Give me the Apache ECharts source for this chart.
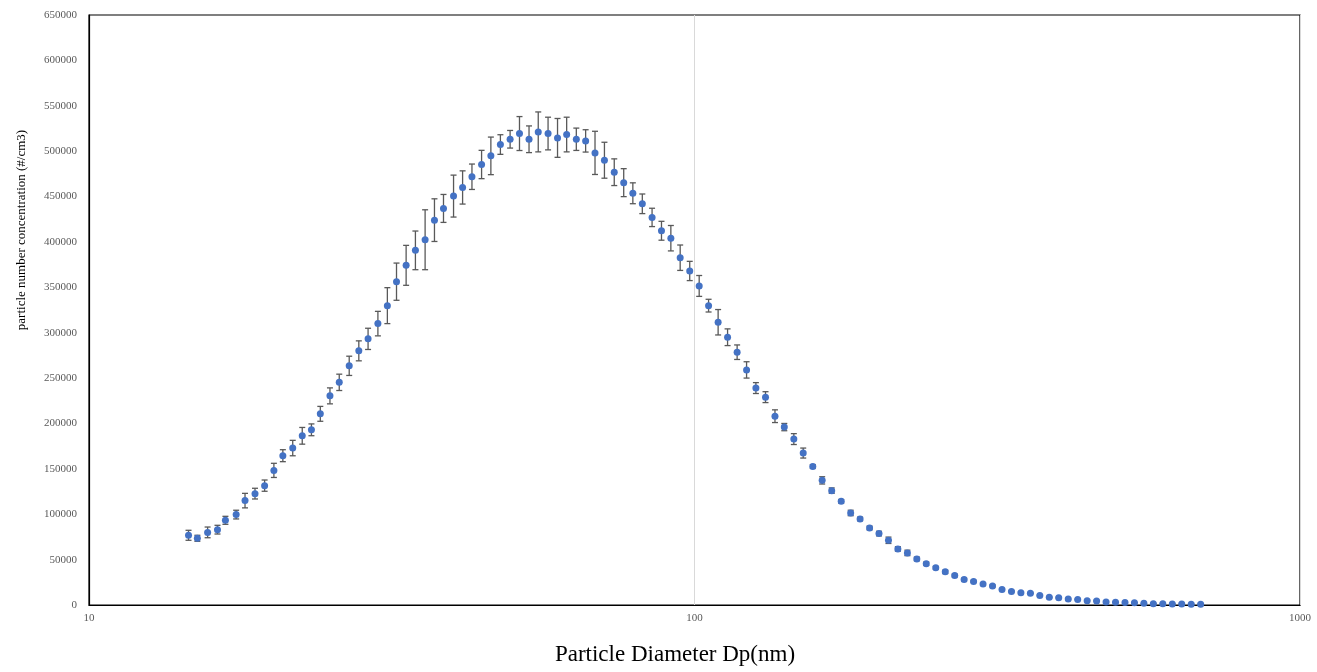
<!DOCTYPE html>
<html>
<head>
<meta charset="utf-8">
<script src="https://cdn.jsdelivr.net/npm/echarts@6/dist/echarts.min.js"></script>
<style>
  html, body { margin: 0; padding: 0; background: #fff; }
  #chart { width: 1317px; height: 672px; }
</style>
</head>
<body>
<div id="chart"></div>
<script>
// particle diameter bins (nm), 64 channels per decade
const diameters = [
  14.6, 15.1, 15.7, 16.3, 16.8, 17.5, 18.1, 18.8, 19.5, 20.2, 20.9, 21.7, 22.5, 23.3, 24.1, 25.0,
  25.9, 26.9, 27.9, 28.9, 30.0, 31.1, 32.2, 33.4, 34.6, 35.9, 37.2, 38.5, 40.0, 41.4, 42.9, 44.5,
  46.1, 47.8, 49.6, 51.4, 53.3, 55.2, 57.3, 59.4, 61.5, 63.8, 66.1, 68.5, 71.0, 73.7, 76.4, 79.1,
  82.0, 85.1, 88.2, 91.4, 94.7, 98.2, 101.8, 105.5, 109.4, 113.4, 117.6, 121.9, 126.3, 131.0, 135.8, 140.7,
  145.9, 151.2, 156.8, 162.5, 168.5, 174.7, 181.1, 187.7, 194.6, 201.7, 209.1, 216.7, 224.7, 232.9, 241.4, 250.3,
  259.5, 269.0, 278.8, 289.0, 299.6, 310.6, 322.0, 333.8, 346.0, 358.7, 371.8, 385.4, 399.5, 414.2, 429.4, 445.1,
  461.4, 478.3, 495.8, 514.0, 532.8, 552.3, 572.5, 593.5, 615.3, 637.8, 661.2, 685.4
]

// mean concentration (#/cm3)
const concentration = [
  76800, 73500, 80000, 83000, 93300, 99600, 115000, 122700, 131500, 148300, 164500, 172900, 186400, 193000, 210600, 230400,
  245300, 263500, 280000, 293200, 310000, 329800, 356200, 374200, 390700, 402400, 424000, 436900, 450500, 460000, 471800, 485300,
  494800, 507300, 513100, 519400, 513100, 521200, 519400, 514600, 518300, 513100, 511300, 498100, 490000, 476800, 465300, 453600,
  442000, 427000, 412300, 404100, 382600, 368000, 351500, 329800, 311500, 295000, 278500, 259000, 239000, 229000, 208000, 196000,
  182800, 167400, 152700, 137300, 126000, 114200, 101400, 94800, 84900, 78700, 71300, 61800, 57400, 50800, 45500, 41000,
  36500, 32500, 28000, 26000, 23000, 21000, 17000, 15000, 13500, 13000, 10500, 8500, 8000, 6500, 6000, 4800,
  4500, 3200, 3000, 2800, 2500, 1800, 1500, 1300, 1100, 1000, 900, 800
]

// error bar half-length (#/cm3)
const errors = [
  5500, 3300, 5900, 4800, 4400, 4800, 8000, 5900, 6200, 7800, 6600, 8500, 9200, 6500, 8200, 8800,
  9000, 10600, 11000, 11700, 13500, 19800, 20500, 22000, 21300, 33000, 23500, 15400, 23100, 18300, 14000, 15600,
  20700, 10800, 9700, 18700, 14700, 22000, 18000, 21400, 19100, 12300, 12300, 23800, 19800, 14700, 15400, 11500,
  10800, 10100, 10400, 14000, 14000, 10600, 11500, 7000, 14000, 9200, 8000, 9000, 6000, 6000, 7000, 4000,
  6000, 5500, 2000, 4000, 3000, 2000, 3000, 2000, 2000, 2500, 3500, 2500, 3000, 2000, 1800, 1500,
  1800, 1500, 1500, 1200, 1200, 1000, 1000, 900, 900, 800, 700, 700, 600, 600, 500, 500,
  500, 400, 400, 400, 300, 300, 300, 300, 200, 200, 200, 200
]

const yTicks = { min: 0, max: 650000, interval: 50000 }

const points = diameters.map((d, i) => [d, concentration[i]])
const bars = diameters.map((d, i) => [d, concentration[i] - errors[i], concentration[i] + errors[i]])

const serif = "'Liberation Serif', 'DejaVu Serif', serif"

function renderErrorBar(params, api) {
  const x = api.value(0)
  const top = api.coord([x, api.value(2)])
  const bot = api.coord([x, api.value(1)])
  const cap = 3
  const style = { stroke: '#595959', lineWidth: 1.3 }
  return {
    type: 'group',
    children: [
      { type: 'line', shape: { x1: top[0], y1: top[1], x2: bot[0], y2: bot[1] }, style },
      { type: 'line', shape: { x1: top[0] - cap, y1: top[1], x2: top[0] + cap, y2: top[1] }, style },
      { type: 'line', shape: { x1: bot[0] - cap, y1: bot[1], x2: bot[0] + cap, y2: bot[1] }, style }
    ]
  }
}

const chart = echarts.init(document.getElementById('chart'))

chart.setOption({
  animation: false,
  backgroundColor: '#fff',
  grid: {
    left: 89,
    right: 17,
    top: 15,
    bottom: 67,
    show: true,
    borderColor: '#000',
    borderWidth: 1.2
  },
  xAxis: {
    type: 'log',
    logBase: 10,
    min: 10,
    max: 1000,
    axisLine: { show: true, lineStyle: { color: '#000', width: 1.2 } },
    axisTick: { show: false },
    splitLine: { show: true, lineStyle: { color: '#d9d9d9', width: 1 } },
    axisLabel: {
      color: '#595959', fontFamily: serif, fontSize: 11, margin: 8,
      formatter: v => String(Math.round(v))
    }
  },
  yAxis: {
    type: 'value',
    min: yTicks.min,
    max: yTicks.max,
    interval: yTicks.interval,
    axisLine: { show: true, lineStyle: { color: '#000', width: 1.2 } },
    axisTick: { show: false },
    splitLine: { show: false },
    axisLabel: {
      color: '#595959', fontFamily: serif, fontSize: 11, margin: 12,
      formatter: v => String(v)
    }
  },
  graphic: [
    {
      type: 'text',
      x: 675,
      y: 655,
      style: {
        text: 'Particle Diameter Dp(nm)',
        font: "23px 'Liberation Serif', serif",
        fill: '#000',
        align: 'center',
        verticalAlign: 'middle'
      }
    },
    {
      type: 'text',
      x: 22,
      y: 230,
      rotation: Math.PI / 2,
      style: {
        text: 'particle number concentration (#/cm3)',
        font: "13px 'Liberation Serif', serif",
        fill: '#000',
        align: 'center',
        verticalAlign: 'middle'
      }
    }
  ],
  series: [
    {
      type: 'custom',
      renderItem: renderErrorBar,
      encode: { x: 0, y: [1, 2] },
      data: bars,
      z: 2
    },
    {
      type: 'scatter',
      data: points,
      symbol: 'circle',
      symbolSize: 7,
      itemStyle: { color: '#4472C4', opacity: 1 },
      z: 3
    }
  ]
})
</script>
</body>
</html>
